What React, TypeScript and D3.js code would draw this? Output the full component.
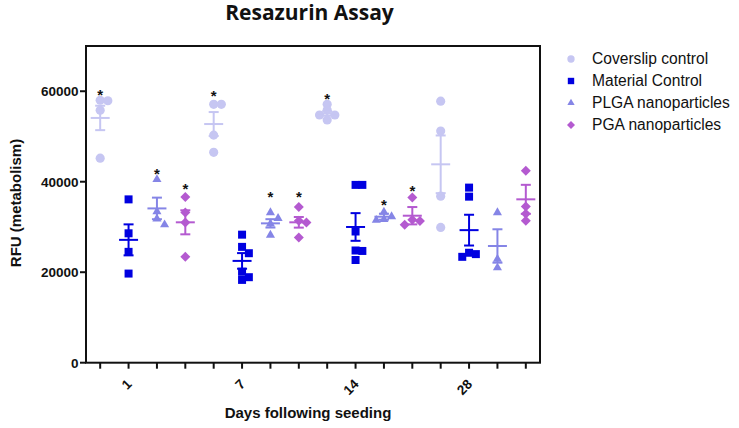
import React from 'react';
import * as d3 from 'd3';

// ---------- data ----------
const days = ['1', '7', '14', '28'];
const seriesNames = ['Coverslip control', 'Material Control', 'PLGA nanoparticles', 'PGA nanoparticles'];

const coverslipValues = [
  [58000, 57900, 55800, 45200],
  [57100, 57100, 50300, 46500],
  [57100, 55850, 54740, 54740, 53640],
  [57800, 51200, 36800, 29900],
];
const materialValues = [
  [36100, 28600, 24500, 19700],
  [28300, 25600, 24200, 20100, 18900, 18300],
  [39300, 39300, 29000, 24800, 24700, 22700],
  [38700, 36700, 24300, 24000, 23400],
];
const plgaValues = [
  [40500, 33400, 31800, 30500],
  [33200, 31900, 30700, 28200],
  [33300, 32300, 31700, 31500],
  [33200, 22900, 21000],
];
const pgaValues = [
  [36600, 33200, 31000, 23400],
  [34400, 31400, 31000, 27700],
  [36500, 31600, 31300, 30500],
  [42400, 34500, 32900, 31400],
];

const coverslipMeans = [54100, 52750, 55100, 43850];
const coverslipSems = [2700, 2650, 500, 6375];
const materialMeans = [27150, 22500, 30000, 29300];
const materialSems = [3425, 1725, 3060, 3400];
const plgaMeans = [34100, 30800, 32270, 25800];
const plgaSems = [2385, 920, 660, 3690];
const pgaMeans = [31030, 31030, 32490, 36110];
const pgaSems = [2655, 1175, 1915, 3205];

// significance star levels (null = no star)
const coverslipStars = [60050, 59760, 59160, null];
const materialStars = [null, null, null, null];
const plgaStars = [42590, 37440, 35740, null];
const pgaStars = [39270, 37440, 38760, null];

const yTicks = [0, 20000, 40000, 60000];

// ---------- styling ----------
const colors = ['#c6c6f2', '#0000e0', '#8585e6', '#b45ad0'];
const shapes = ['circle', 'square', 'triangle', 'diamond'];

const series = [
  { name: seriesNames[0], values: coverslipValues, means: coverslipMeans, sems: coverslipSems, stars: coverslipStars },
  { name: seriesNames[1], values: materialValues, means: materialMeans, sems: materialSems, stars: materialStars },
  { name: seriesNames[2], values: plgaValues, means: plgaMeans, sems: plgaSems, stars: plgaStars },
  { name: seriesNames[3], values: pgaValues, means: pgaMeans, sems: pgaSems, stars: pgaStars },
];

const W = 739, H = 428;
const left = 86, right = 540, top = 46, bottom = 362.7;
const FONT = '"Liberation Sans", Arial, sans-serif';

const x = d3.scaleLinear().domain([-0.5, 15.5]).range([left, right]);
const y = d3.scaleLinear().domain([0, 70000]).range([bottom, top]);

function symbolPath(shape: string, scale = 1) {
  if (shape === 'circle') return d3.symbol(d3.symbolCircle, 66 * scale * scale)()!;
  if (shape === 'square') return d3.symbol(d3.symbolSquare, 64 * scale * scale)()!;
  if (shape === 'triangle') return d3.symbol(d3.symbolTriangle, 36 * scale * scale)()!;
  return d3.symbol(d3.symbolSquare, 50 * scale * scale)()!;
}

function swarm(vals: number[], shape: string) {
  const step = shape === 'square' ? 6.8 : 7.65;
  const thr = shape === 'square' ? 6.8 : shape === 'circle' ? 5.4 : 6.3;
  const sorted = vals.map((v, k) => ({ v, k })).sort((a, b) => b.v - a.v);
  const placed: { v: number; py: number; dx: number }[] = [];
  for (const p of sorted) {
    const py = y(p.v);
    for (const m of [0, 1, -1, 2, -2, 3, -3]) {
      const dx = m * step;
      const ok = placed.every(q => Math.abs(q.py - py) >= thr || Math.abs(q.dx - dx) >= step - 0.01);
      if (ok) { placed.push({ v: p.v, py, dx }); break; }
    }
  }
  return placed;
}

export default function App() {
  const marks: React.ReactNode[] = [];
  const bars: React.ReactNode[] = [];
  const stars: React.ReactNode[] = [];

  days.forEach((_, di) => {
    series.forEach((s, si) => {
      const idx = di * 4 + si;
      const cx = x(idx);
      const shape = shapes[si];
      const col = colors[si];
      const path = symbolPath(shape);
      swarm(s.values[di], shape).forEach((p, k) => {
        marks.push(
          <path key={`p-${idx}-${k}`} d={path} fill={col}
            transform={`translate(${cx + p.dx},${p.py})${shape === 'diamond' ? ' rotate(45)' : ''}`} />
        );
      });
      const m = s.means[di], e = s.sems[di];
      const ym = y(m), yt = y(m + e), yb = y(m - e);
      bars.push(
        <g key={`b-${idx}`} stroke={col} strokeWidth={2} fill="none">
          <line x1={cx - 9.5} x2={cx + 9.5} y1={ym} y2={ym} />
          <line x1={cx} x2={cx} y1={yt} y2={yb} />
          <line x1={cx - 5} x2={cx + 5} y1={yt} y2={yt} />
          <line x1={cx - 5} x2={cx + 5} y1={yb} y2={yb} />
        </g>
      );
      const st = s.stars[di];
      if (st != null) {
        stars.push(
          <text key={`s-${idx}`} x={cx} y={y(st)} dy="0.6em" textAnchor="middle"
            fontFamily={FONT} fontWeight="bold" fontSize={15} fill="#111">*</text>
        );
      }
    });
  });

  const xTickIdx = d3.range(16);

  return (
    <svg width={W} height={H} style={{ position: 'absolute', left: 0, top: 0, background: '#fff' }}>
      <rect x={0} y={0} width={W} height={H} fill="#fff" />
      <text x={309.5} y={20} textAnchor="middle" fontFamily='"Open Sans", sans-serif'
        fontWeight="bold" fontSize={21} fill="#111">Resazurin Assay</text>

      {/* frame */}
      <rect x={left} y={top} width={right - left} height={bottom - top} fill="none" stroke="#111" strokeWidth={2} />

      {/* y axis ticks */}
      {yTicks.map(t => (
        <g key={`yt-${t}`}>
          <line x1={left - 6} x2={left} y1={y(t)} y2={y(t)} stroke="#111" strokeWidth={2} />
          <text x={left - 7.5} y={y(t)} dy="0.36em" textAnchor="end" fontFamily={FONT}
            fontWeight="bold" fontSize={13.5} fill="#111">{t}</text>
        </g>
      ))}

      {/* x axis ticks */}
      {xTickIdx.map(i => (
        <line key={`xt-${i}`} x1={x(i)} x2={x(i)} y1={bottom} y2={bottom + 6} stroke="#111" strokeWidth={2} />
      ))}
      {days.map((d, di) => {
        const tx = x(di * 4 + 1) + 4;
        return (
          <text key={`xl-${d}`} transform={`translate(${tx},385) rotate(-45)`} textAnchor="end"
            fontFamily={FONT} fontWeight="bold" fontSize={13.5} fill="#111">{d}</text>
        );
      })}

      <text x={308} y={418} textAnchor="middle" fontFamily={FONT} fontWeight="bold" fontSize={15} fill="#111">
        Days following seeding
      </text>
      <text transform="translate(20.5,203) rotate(-90)" textAnchor="middle" fontFamily={FONT}
        fontWeight="bold" fontSize={15} fill="#111">RFU (metabolism)</text>

      {marks}
      {bars}
      {stars}

      {/* legend */}
      {series.map((s, si) => {
        const ly = 59 + si * 22;
        return (
          <g key={`lg-${si}`}>
            <path d={symbolPath(shapes[si], 0.8)} fill={colors[si]}
              transform={`translate(571,${ly})${shapes[si] === 'diamond' ? ' rotate(45)' : ''}`} />
            <text x={592} y={ly} dy="0.35em" fontFamily={FONT} fontSize={15.6} fill="#111">{s.name}</text>
          </g>
        );
      })}
    </svg>
  );
}
